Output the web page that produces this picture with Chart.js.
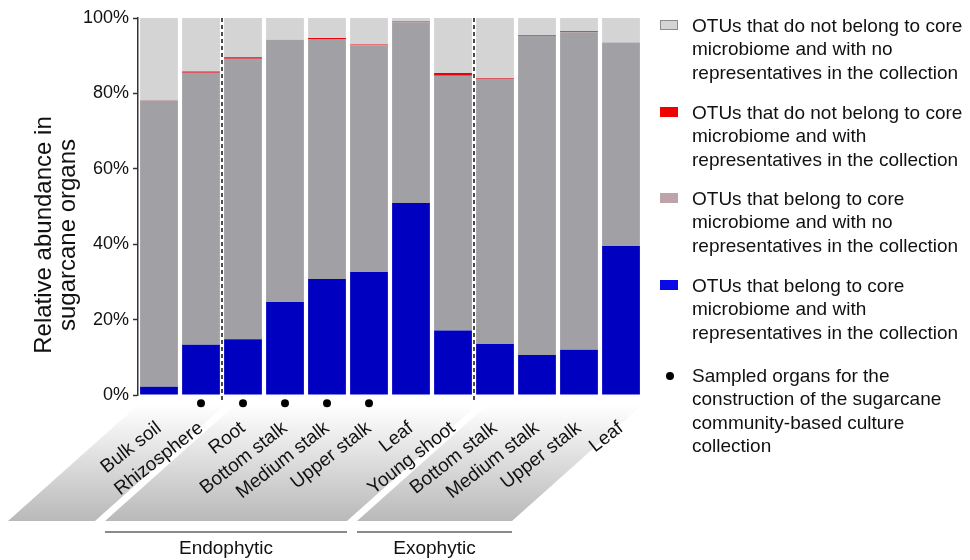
<!DOCTYPE html>
<html>
<head>
<meta charset="utf-8">
<script src="https://cdn.jsdelivr.net/npm/chart.js@4.4.1/dist/chart.umd.min.js"></script>
<style>
  body { margin: 0; background: #fff; }
  #wrap { position: relative; width: 970px; height: 560px; }
  #legend { position: absolute; left: 0; top: 0; font-family: "Liberation Sans", Arial, sans-serif; font-size: 19px; color: #111; }
  .item { position: absolute; left: 692px; line-height: 23.3px; white-space: nowrap; }
  .swatch { position: absolute; left: 660px; width: 18px; height: 10px; box-sizing: border-box; }
  .dot { position: absolute; left: 666px; width: 8px; height: 8px; border-radius: 50%; background: #000; }
</style>
</head>
<body>
<div id="wrap">
  <canvas id="chart" width="970" height="560"></canvas>
  <div id="legend"></div>
</div>
<script>
// Organer (kategorier)
const organs = ['Bulk soil', 'Rhizosphere', 'Root', 'Bottom stalk', 'Medium stalk', 'Upper stalk',
                'Leaf', 'Young shoot', 'Bottom stalk', 'Medium stalk', 'Upper stalk', 'Leaf'];

// Serier i %
const coreWithReps    = [2.2, 13.3, 14.8, 24.7, 30.8, 32.6, 50.9, 17.1, 13.5, 10.6, 12.0, 39.5];
const coreNoReps      = [75.9, 72.2, 74.4, 69.5, 63.5, 60.2, 48.0, 67.6, 70.4, 84.7, 84.2, 54.0];
const nonCoreWithReps = [0.1, 0.3, 0.4, 0.05, 0.4, 0.2, 0.2, 0.7, 0.2, 0.2, 0.3, 0.0];
const nonCoreNoReps   = [21.8, 14.2, 10.4, 5.75, 5.3, 7.0, 0.9, 14.6, 15.9, 4.5, 3.5, 6.5];

// Organer brugt til kulturkollektionen (prik under søjlen)
const sampled = [0, 1, 1, 1, 1, 1, 0, 0, 0, 0, 0, 0];

// Grupper: startindeks og navn
const groupStarts = [0, 2, 8];
const groupNames = ['', 'Endophytic', 'Exophytic'];

// Akse
const yTicks = [0, 20, 40, 60, 80, 100];
const yTitle = ['Relative abundance in', 'sugarcane organs'];

// Legend tekster
const legendTexts = [
    ['OTUs that do not belong to core', 'microbiome and with no', 'representatives in the collection'],
    ['OTUs that do not belong to core', 'microbiome and with', 'representatives in the collection'],
    ['OTUs that belong to core', 'microbiome and with no', 'representatives in the collection'],
    ['OTUs that belong to core', 'microbiome and with', 'representatives in the collection'],
    ['Sampled organs for the', 'construction of the sugarcane', 'community-based culture', 'collection']
];
const legendColors = ['#d4d4d4', '#f00000', '#bfa3ab', '#0a0ae6', null];

const FONT = '"Liberation Sans", Arial, sans-serif';
const dotLevel = -2.2;

// Tegner parallelogrammer, stiplede linjer, gruppelinjer, prikker og y-titel
const decorations = {
    id: 'decorations',
    beforeDraw(chart) {
        const ctx = chart.ctx;
        const x = chart.scales.x;
        const half = (x.getPixelForValue(1) - x.getPixelForValue(0)) / 2;
        const top = 405, bottom = 521, shift = 130;
        ctx.save();
        for (let g = 0; g < groupStarts.length; g++) {
            const left = g === 0 ? x.left : x.getPixelForValue(groupStarts[g]) - half + 13;
            const right = g === groupStarts.length - 1 ? x.right : x.getPixelForValue(groupStarts[g + 1]) - half + 3;
            const grad = ctx.createLinearGradient(0, top, 0, bottom);
            grad.addColorStop(0, '#ffffff');
            grad.addColorStop(1, '#b9b9b9');
            ctx.fillStyle = grad;
            ctx.beginPath();
            ctx.moveTo(left, top);
            ctx.lineTo(right, top);
            ctx.lineTo(right - shift, bottom);
            ctx.lineTo(left - shift, bottom);
            ctx.closePath();
            ctx.fill();
            if (groupNames[g]) {
                ctx.strokeStyle = '#8a8a8a';
                ctx.lineWidth = 2;
                ctx.beginPath();
                ctx.moveTo(left - shift, 532);
                ctx.lineTo(right - shift, 532);
                ctx.stroke();
                ctx.fillStyle = '#111';
                ctx.font = '19px ' + FONT;
                ctx.textAlign = 'center';
                ctx.textBaseline = 'middle';
                ctx.fillText(groupNames[g], (left + right) / 2 - shift, 549);
            }
        }
        // y titel
        ctx.fillStyle = '#111';
        ctx.font = '24px ' + FONT;
        ctx.textAlign = 'center';
        ctx.textBaseline = 'middle';
        yTitle.forEach(function (line, i) {
            ctx.save();
            ctx.translate(44 + i * 24, 235);
            ctx.rotate(-Math.PI / 2);
            ctx.fillText(line, 0, 0);
            ctx.restore();
        });
        ctx.restore();
    },
    afterDatasetsDraw(chart) {
        const ctx = chart.ctx;
        const x = chart.scales.x;
        const y = chart.scales.y;
        const half = (x.getPixelForValue(1) - x.getPixelForValue(0)) / 2;
        ctx.save();
        ctx.strokeStyle = '#111';
        ctx.lineWidth = 1.5;
        ctx.setLineDash([4, 3]);
        for (let g = 1; g < groupStarts.length; g++) {
            const bx = x.getPixelForValue(groupStarts[g]) - half;
            ctx.beginPath();
            ctx.moveTo(bx, y.top);
            ctx.lineTo(bx, y.bottom + 8);
            ctx.stroke();
        }
        // prikker under udvalgte organer
        ctx.fillStyle = '#000';
        sampled.forEach(function (s, i) {
            if (!s) return;
            ctx.beginPath();
            ctx.arc(x.getPixelForValue(i), y.getPixelForValue(dotLevel), 4, 0, Math.PI * 2);
            ctx.fill();
        });
        ctx.restore();
    }
};

const ctx = document.querySelector('#chart').getContext('2d');
const chart = new Chart(ctx, {
    type: 'bar',
    data: {
        labels: organs,
        datasets: [
            { label: 'core with reps', data: coreWithReps, backgroundColor: '#0000c0', stack: 'a' },
            { label: 'core no reps', data: coreNoReps, backgroundColor: '#a0a0a5', stack: 'a' },
            { label: 'non-core with reps', data: nonCoreWithReps, backgroundColor: '#e8000b', stack: 'a' },
            { label: 'non-core no reps', data: nonCoreNoReps, backgroundColor: '#d4d4d4', stack: 'a' }
        ]
    },
    options: {
        responsive: false,
        animation: false,
        devicePixelRatio: 1,
        layout: { padding: { left: 0, top: 18, right: 328, bottom: 0 } },
        datasets: { bar: { barPercentage: 0.9, categoryPercentage: 1 } },
        scales: {
            x: {
                stacked: true,
                grid: { display: false, drawTicks: false },
                border: { display: false },
                afterFit(scale) { scale.height = 165; },
                ticks: {
                    autoSkip: false, minRotation: 38, maxRotation: 38, padding: 22,
                    color: '#111', font: { family: FONT, size: 19 }
                }
            },
            y: {
                stacked: true,
                min: 0, max: 100,
                afterFit(scale) { scale.width = 138; },
                afterBuildTicks(scale) { scale.ticks = yTicks.map(v => ({ value: v })); },
                grid: { drawOnChartArea: false, tickLength: 5, tickColor: '#333', tickWidth: 1.5 },
                border: { color: '#333', width: 1.5 },
                ticks: {
                    padding: 4, color: '#111', font: { family: FONT, size: 18 },
                    callback: v => v + '%'
                }
            }
        },
        plugins: {
            legend: { display: false },
            tooltip: { enabled: false }
        }
    },
    plugins: [decorations]
});

// HTML-legend
const legendTops = [14, 101, 187, 274, 364];
const legendEl = document.querySelector('#legend');
legendTexts.forEach(function (lines, i) {
    const t = legendTops[i];
    const item = document.createElement('div');
    item.className = 'item';
    item.style.top = t + 'px';
    item.innerHTML = lines.join('<br>');
    legendEl.appendChild(item);
    const mark = document.createElement('div');
    if (legendColors[i]) {
        mark.className = 'swatch';
        mark.style.top = (t + 6) + 'px';
        mark.style.background = legendColors[i];
        mark.style.border = '1px solid ' + (i === 0 ? '#8c8c8c' : legendColors[i]);
    } else {
        mark.className = 'dot';
        mark.style.top = (t + 8) + 'px';
    }
    legendEl.appendChild(mark);
});
</script>
</body>
</html>
